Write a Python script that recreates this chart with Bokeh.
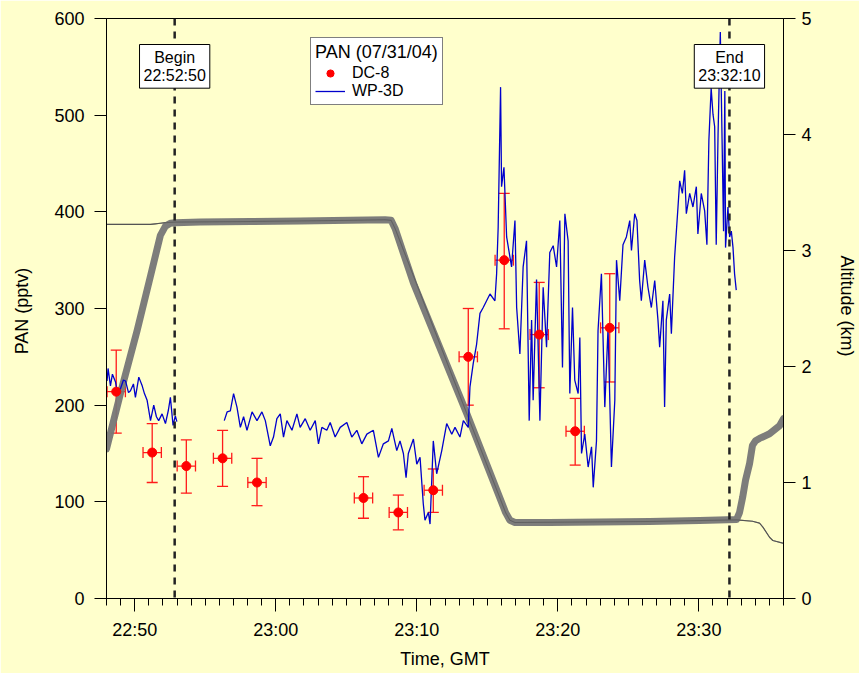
from bokeh.plotting import figure
from bokeh.models import (Range1d, LinearAxis, FixedTicker, Span, Label, Legend,
                          LegendItem, Whisker, ColumnDataSource, TeeHead)
from bokeh.embed import file_html
from bokeh.resources import INLINE

# ---------------- data (time = minutes after 22:00 GMT) ----------------
x_ticks = [50, 60, 70, 80, 90]
x_tick_labels = ["22:50", "23:00", "23:10", "23:20", "23:30"]
pan_ticks = [0, 100, 200, 300, 400, 500, 600]
alt_ticks = [0, 1, 2, 3, 4, 5]

begin_time = 52 + 50 / 60.0     # 22:52:50
end_time = 92 + 10 / 60.0       # 23:32:10

dc8_time = [48.69, 51.24, 53.66, 56.23, 58.67, 66.22, 68.69, 71.17, 73.65, 76.20, 78.68, 81.23, 83.68]
dc8_pan = [214, 151, 137, 145, 120, 104, 89, 112, 250, 350, 273, 173, 280]
dc8_pan_lo = [171, 120, 109, 116, 96, 83, 71, 89, 200, 279, 218, 138, 224]
dc8_pan_hi = [257, 181, 164, 174, 145, 126, 107, 134, 300, 419, 327, 207, 336]
dc8_time_err = 0.65

wp3d_t1 = [48.04, 48.11, 48.28, 48.42, 48.64, 48.78, 48.99, 49.20, 49.35, 49.56, 49.70, 49.91,
           50.05, 50.29, 50.53, 50.69, 50.88, 51.12, 51.35, 51.54, 51.70, 51.94, 52.18, 52.39,
           52.53, 52.72, 52.88, 52.99]
wp3d_p1 = [225, 238, 220, 232, 224, 212, 217, 226, 225, 213, 215, 222,
           208, 229, 220, 212, 205, 184, 200, 188, 184, 191, 181, 195,
           208, 179, 189, 183]

wp3d_t2 = [56.35, 56.55, 56.78, 57.01, 57.25, 57.49, 57.72, 57.96, 58.32, 58.67, 59.02, 59.26,
           59.49, 59.61, 59.84, 60.08, 60.32, 60.55, 60.79, 61.15, 61.50, 61.73, 62.09, 62.44,
           62.80, 63.03, 63.27, 63.62, 63.86, 64.21, 64.57, 65.04, 65.39, 65.75, 66.10, 66.46,
           66.92, 67.28, 67.63, 67.99, 68.23, 68.58, 68.81, 69.05, 69.24, 69.40, 69.76, 70.00,
           70.23, 70.46, 70.58, 70.82, 70.94, 71.17, 71.41, 71.77, 72.12, 72.48, 72.71, 73.06,
           73.30, 73.65, 73.77, 74.00, 74.24, 74.48, 74.71, 74.95, 75.19, 75.54, 75.66, 75.77,
           75.94, 76.01, 76.18, 76.37, 76.72, 76.96, 77.08, 77.31, 77.54, 77.78, 77.97, 78.14,
           78.25, 78.49, 78.73, 78.96, 79.20, 79.43, 79.67, 79.91, 80.14, 80.33, 80.50, 80.73,
           80.85, 81.04, 81.20, 81.44, 81.56, 81.68, 81.91, 82.15, 82.39, 82.51, 82.74, 82.85,
           83.09, 83.33, 83.56, 83.80, 84.04, 84.16, 84.39, 84.62, 84.86, 85.10, 85.22, 85.45,
           85.61, 85.80, 85.92, 86.16, 86.39, 86.63, 86.87, 87.10, 87.22, 87.45, 87.57, 87.69,
           87.93, 88.05, 88.28, 88.52, 88.64, 88.83, 88.99, 89.11, 89.35, 89.58, 89.82, 89.93,
           90.17, 90.41, 90.57, 90.71, 90.87, 91.00, 91.12, 91.23, 91.36, 91.52, 91.65, 91.75,
           91.84, 91.89, 92.06, 92.18, 92.30, 92.42, 92.53, 92.65]
wp3d_p2 = [184, 193, 194, 212, 198, 177, 188, 174, 193, 184, 193, 184,
           167, 158, 167, 186, 191, 167, 184, 174, 191, 177, 186, 174,
           184, 160, 177, 174, 182, 167, 177, 182, 167, 174, 160, 170,
           174, 146, 160, 163, 176, 153, 163, 150, 125, 150, 165, 139,
           146, 98, 81, 89, 77, 163, 129, 153, 181, 170, 177, 167,
           184, 177, 219, 243, 263, 295, 301, 308, 315, 308, 336, 384,
           529, 426, 446, 374, 343, 391, 301, 253, 343, 370, 184, 288,
           205, 330, 184, 322, 260, 358, 365, 343, 391, 239, 398, 370,
           212, 301, 226, 212, 270, 150, 170, 136, 157, 115, 163, 277,
           336, 198, 280, 136, 205, 350, 308, 366, 374, 391, 360, 398,
           391, 329, 308, 350, 322, 301, 329, 288, 260, 308, 198, 288,
           315, 274, 353, 405, 432, 419, 443, 398, 419, 405, 426, 377,
           419, 401, 366, 474, 528, 501, 488, 366, 480, 586, 470, 380,
           525, 363, 405, 374, 380, 363, 336, 319]

alt_thick_t = [48.00, 49.06, 50.17, 51.12, 51.82, 52.18, 52.53, 52.88, 54.65, 58.19, 61.73, 65.27,
               67.75, 68.18, 68.46, 69.76, 73.56, 76.30, 76.60, 76.96, 79.43, 82.97, 86.51, 90.05,
               92.67, 92.88, 93.10, 93.31, 93.59, 93.80, 94.02, 94.30, 95.01, 95.72, 96.00]
alt_thick = [1.29, 1.80, 2.31, 2.78, 3.13, 3.21, 3.235, 3.24, 3.245, 3.25, 3.255, 3.26,
             3.265, 3.26, 3.19, 2.72, 1.59, 0.74, 0.675, 0.655, 0.655, 0.66, 0.664, 0.672,
             0.68, 0.74, 0.87, 1.02, 1.16, 1.32, 1.36, 1.38, 1.42, 1.49, 1.55]

alt_thin_t = [48.00, 51.12, 51.47, 51.82, 52.18, 52.88, 58.19, 65.27, 67.75, 68.18, 68.46, 73.56,
              76.30, 76.60, 76.96, 86.51, 92.67, 93.80, 94.30, 94.54, 95.01, 95.24, 95.95, 96.00]
alt_thin = [3.225, 3.225, 3.23, 3.235, 3.24, 3.245, 3.25, 3.26, 3.265, 3.26, 3.19, 1.59,
            0.74, 0.675, 0.655, 0.664, 0.678, 0.666, 0.65, 0.615, 0.528, 0.50, 0.477, 0.477]

# ---------------- figure ----------------
BG = "#FFFFCC"
FONT = "Liberation Sans"

p = figure(width=859, height=673, x_range=Range1d(48, 96), y_range=Range1d(0, 600),
           output_backend="svg", toolbar_location=None,
           min_border_left=106, min_border_right=75, min_border_top=18, min_border_bottom=75,
           background_fill_color=BG, border_fill_color=BG,
           outline_line_color="black", outline_line_width=1)
p.grid.visible = False
p.extra_y_ranges = {"alt": Range1d(0, 5)}

# altitude lines (right axis)
p.line(alt_thin_t, alt_thin, y_range_name="alt", line_color="#555555", line_width=1.2)
p.line(alt_thick_t, alt_thick, y_range_name="alt", line_color="#767676", line_width=7,
       line_alpha=0.95, line_join="round", line_cap="round")
p.line(alt_thin_t, alt_thin, y_range_name="alt", line_color="#555555", line_width=1, line_alpha=0.6)

# WP-3D PAN
blue1 = p.line(wp3d_t1, wp3d_p1, line_color="#0000CC", line_width=1.3)
blue2 = p.line(wp3d_t2, wp3d_p2, line_color="#0000CC", line_width=1.3)

# DC-8 PAN with error bars
src = ColumnDataSource(dict(
    t=dc8_time, pan=dc8_pan, lo=dc8_pan_lo, hi=dc8_pan_hi,
    tlo=[t - dc8_time_err for t in dc8_time], thi=[t + dc8_time_err for t in dc8_time]))
RED = "#FF1A1A"
p.add_layout(Whisker(source=src, base="t", lower="lo", upper="hi", dimension="height",
                     line_color=RED, line_width=1.3,
                     upper_head=TeeHead(size=11, line_color=RED, line_width=1.3),
                     lower_head=TeeHead(size=11, line_color=RED, line_width=1.3)))
p.add_layout(Whisker(source=src, base="pan", lower="tlo", upper="thi", dimension="width",
                     line_color=RED, line_width=1.3,
                     upper_head=TeeHead(size=11, line_color=RED, line_width=1.3),
                     lower_head=TeeHead(size=11, line_color=RED, line_width=1.3)))
dots = p.scatter("t", "pan", source=src, size=9, fill_color="#FF0000", line_color="#FF0000")

# begin / end markers
for t in (begin_time, end_time):
    p.add_layout(Span(location=t, dimension="height", line_color="#222222",
                      line_dash="7 6", line_width=2.5))
for t, txt in ((begin_time, "Begin\n22:52:50"), (end_time, "End\n23:32:10")):
    p.add_layout(Label(x=t, y=554, y_units="screen", text=txt, text_align="center",
                       text_baseline="top", text_font=FONT, text_font_size="16px",
                       text_color="black", text_line_height=1.1,
                       background_fill_color="white", background_fill_alpha=1.0,
                       border_line_color="black", border_line_width=1, padding=4))

# axes
xa = p.xaxis[0]
xa.ticker = FixedTicker(ticks=x_ticks, minor_ticks=list(range(48, 97)))
xa.major_label_overrides = dict(zip(x_ticks, x_tick_labels))
xa.axis_label = "Time, GMT"
xa.major_tick_out = 13
xa.major_tick_in = 0
xa.minor_tick_out = 7
xa.minor_tick_in = 0
xa.major_label_standoff = 8
xa.axis_label_standoff = 6

ya = p.yaxis[0]
ya.ticker = FixedTicker(ticks=pan_ticks, minor_ticks=[])
ya.axis_label = "PAN  (pptv)"
ya.major_tick_out = 12
ya.major_tick_in = 0
ya.major_label_standoff = 10
ya.axis_label_standoff = 19

ra = LinearAxis(y_range_name="alt", ticker=FixedTicker(ticks=alt_ticks, minor_ticks=[]),
                axis_label="Altitude  (km)")
ra.major_tick_out = 12
ra.major_tick_in = 0
ra.major_label_standoff = 6
ra.axis_label_standoff = 22
p.add_layout(ra, "right")

for ax in (xa, ya, ra):
    ax.axis_line_color = "black"
    ax.major_tick_line_color = "black"
    ax.minor_tick_line_color = "black"
    ax.major_label_text_color = "black"
    ax.major_label_text_font = FONT
    ax.major_label_text_font_size = "18px"
    ax.axis_label_text_font = FONT
    ax.axis_label_text_font_size = "18px"
    ax.axis_label_text_font_style = "normal"
    ax.axis_label_text_color = "black"
ya.minor_tick_line_color = None
ra.minor_tick_line_color = None

# legend
legend = Legend(items=[LegendItem(label="DC-8", renderers=[dots]),
                       LegendItem(label="WP-3D", renderers=[blue2])],
                title="PAN (07/31/04)", location=(204, 493))
legend.title_text_font = FONT
legend.title_text_font_size = "18px"
legend.title_text_font_style = "normal"
legend.title_text_color = "black"
legend.title_standoff = 1
legend.label_text_font = FONT
legend.label_text_font_size = "16px"
legend.label_text_color = "black"
legend.glyph_width = 30
legend.glyph_height = 18
legend.label_height = 18
legend.label_standoff = 7
legend.spacing = 0
legend.padding = 4
legend.margin = 0
legend.border_line_color = "black"
legend.border_line_width = 1
legend.background_fill_color = "white"
legend.background_fill_alpha = 1.0
p.add_layout(legend)

open("out.html", "w").write(file_html(p, INLINE))
